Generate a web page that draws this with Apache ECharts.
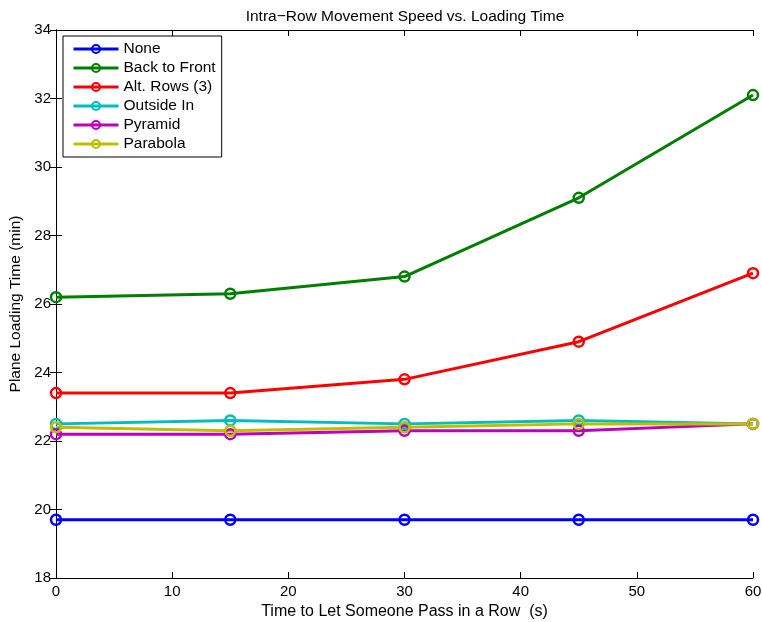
<!DOCTYPE html>
<html><head><meta charset="utf-8">
<script src="https://cdn.jsdelivr.net/npm/echarts@6/dist/echarts.min.js"></script>
<style>html,body{margin:0;padding:0;background:#fff}#c{width:762px;height:622px}</style>
</head><body><div id="c"></div>
<script>
const xValues = [0, 15, 30, 45, 60];
const seriesNames = ['None', 'Back to Front', 'Alt. Rows (3)', 'Outside In', 'Pyramid', 'Parabola'];
const noneVals = [19.7, 19.7, 19.7, 19.7, 19.7];
const backToFrontVals = [26.2, 26.3, 26.8, 29.1, 32.1];
const altRowsVals = [23.4, 23.4, 23.8, 24.9, 26.9];
const outsideInVals = [22.5, 22.6, 22.5, 22.6, 22.5];
const pyramidVals = [22.2, 22.2, 22.3, 22.3, 22.5];
const parabolaVals = [22.4, 22.3, 22.4, 22.5, 22.5];
const colors = ['#0000ff', '#008000', '#ff0000', '#00bfbf', '#bf00bf', '#bfbf00'];
const allVals = [noneVals, backToFrontVals, altRowsVals, outsideInVals, pyramidVals, parabolaVals];

const font = 'Liberation Sans, Arial, Helvetica, sans-serif';
const chart = echarts.init(document.getElementById('c'), null, {renderer: 'canvas'});

const axisCommon = {
  axisLine: {show: true, lineStyle: {color: '#000', width: 1}},
  axisTick: {show: true, inside: true, length: 6, lineStyle: {color: '#000'}},
  splitLine: {show: false}
};

chart.setOption({
  animation: false,
  color: colors,
  title: {
    text: 'Intra\u2212Row Movement Speed vs. Loading Time',
    left: 400, top: 4, textAlign: 'center',
    textStyle: {fontFamily: font, fontSize: 15.5, fontWeight: 'normal', color: '#000'}
  },
  grid: {left: 56, right: 9, top: 30, bottom: 44, containLabel: false, outerBoundsMode: 'none'},
  legend: {
    orient: 'vertical', left: 63, top: 36,
    data: seriesNames,
    itemWidth: 45, itemHeight: 10, itemGap: 3,
    padding: [5, 6, 5, 9],
    borderColor: '#000', borderWidth: 1, backgroundColor: '#fff',
    lineStyle: {width: 3},
    itemStyle: {borderWidth: 2},
    textStyle: {fontFamily: font, fontSize: 15.5, lineHeight: 15, color: '#000'}
  },
  xAxis: [
    Object.assign({}, axisCommon, {
      type: 'value', position: 'bottom', min: 0, max: 60, interval: 10,
      name: 'Time to Let Someone Pass in a Row  (s)', nameLocation: 'middle', nameGap: 25,
      nameTextStyle: {fontFamily: font, fontSize: 16, color: '#000'},
      axisLabel: {color: '#000', fontFamily: font, fontSize: 15, margin: 6}
    }),
    Object.assign({}, axisCommon, {
      type: 'value', position: 'top', min: 0, max: 60, interval: 10,
      axisLabel: {show: false}
    })
  ],
  yAxis: [
    Object.assign({}, axisCommon, {
      type: 'value', position: 'left', min: 18, max: 34, interval: 2,
      name: 'Plane Loading Time (min)', nameLocation: 'middle', nameGap: 27,
      nameTextStyle: {fontFamily: font, fontSize: 15.5, color: '#000'},
      axisLabel: {color: '#000', fontFamily: font, fontSize: 15, margin: 5}
    }),
    Object.assign({}, axisCommon, {
      type: 'value', position: 'right', min: 18, max: 34, interval: 2,
      axisLabel: {show: false}
    })
  ],
  series: seriesNames.map((n, i) => ({
    name: n, type: 'line',
    data: xValues.map((x, j) => [x, allVals[i][j]]),
    symbol: 'circle', symbolSize: 10,
    lineStyle: {width: 3, color: colors[i]},
    itemStyle: {color: 'rgba(255,255,255,0)', borderColor: colors[i], borderWidth: 2.5},
    emphasis: {disabled: true}
  }))
});
</script></body></html>
